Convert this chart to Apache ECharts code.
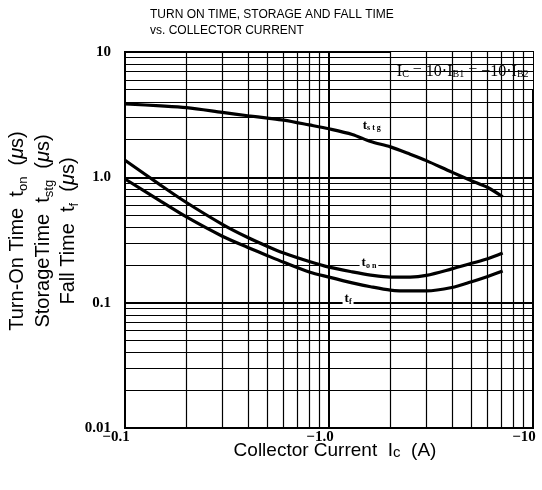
<!DOCTYPE html>
<html>
<head>
<meta charset="utf-8">
<script src="https://cdn.jsdelivr.net/npm/echarts@6/dist/echarts.min.js"></script>
<style>html,body{margin:0;padding:0;background:#fff;}#c{width:542px;height:490px;}</style>
</head>
<body>
<div id="c"></div>
<script>
// Collector current magnitude (A); the axis shows them as negative values
const currents = [0.1, 0.15, 0.2, 0.3, 0.4, 0.5, 0.6, 0.8, 1.0, 1.3, 1.6, 2.0, 2.5, 3.0, 4.0, 5.0, 6.0, 7.1];
// Storage time t_stg (us)
const tStg = [3.85, 3.72, 3.6, 3.3, 3.1, 2.97, 2.86, 2.62, 2.44, 2.2, 1.93, 1.75, 1.53, 1.36, 1.1, 0.94, 0.83, 0.70];
// Turn-on time t_on (us)
const tOn = [1.37, 0.863, 0.63, 0.422, 0.331, 0.281, 0.249, 0.213, 0.192, 0.176, 0.166, 0.16, 0.16, 0.165, 0.186, 0.206, 0.224, 0.249];
// Fall time t_f (us)
const tF = [0.97, 0.643, 0.483, 0.339, 0.276, 0.237, 0.21, 0.176, 0.16, 0.144, 0.134, 0.126, 0.124, 0.124, 0.132, 0.147, 0.162, 0.179];

const xTickLabels = ['\u22120.1', '\u22121.0', '\u221210'];
const yTickLabels = ['0.01', '0.1', '1.0', '10'];

// log graph-paper lines
const gridX = [0.2,0.3,0.4,0.5,0.6,0.7,0.8,0.9,1,2,3,4,5,6,7,8,9];
const gridY = [0.02,0.03,0.04,0.05,0.06,0.07,0.08,0.09,0.1,0.2,0.3,0.4,0.5,0.6,0.7,0.8,0.9,1,2,3,4,5,6,7,8,9];

// curve label anchors (data coordinates)
const labelStg = [1.62, 2.6];
const labelOn = [1.57, 0.207];
const labelF = [1.24, 0.107];

const chart = echarts.init(document.getElementById('c'), null, {renderer: 'canvas'});
const serif = '"Liberation Serif", "Times New Roman", serif';
const sans = '"Liberation Sans", Arial, sans-serif';

function pairs(ys) { return currents.map((x, i) => [x, ys[i]]); }
function curveLabel(coord, txt) {
  return {
    symbol: 'circle', symbolSize: 1, silent: true, animation: false,
    itemStyle: {color: 'rgba(0,0,0,0)'},
    data: [{coord: coord, value: 0}],
    label: {
      show: true, position: 'inside', formatter: txt,
      backgroundColor: '#fff', padding: [0, 2],
      fontFamily: serif, fontWeight: 'bold', fontSize: 13, color: '#000',
      rich: {s: {fontFamily: serif, fontWeight: 'bold', fontSize: 8, color: '#000', verticalAlign: 'bottom', padding: [5, 0, 0, 0]}}
    }
  };
}

const lineData = [];
gridX.forEach(v => lineData.push({xAxis: v, lineStyle: {width: v === 1 ? 2 : 1.2}}));
gridY.forEach(v => lineData.push({yAxis: v, lineStyle: {width: (v === 1 || v === 0.1) ? 2 : 1.2}}));

const option = {
  animation: false,
  backgroundColor: '#fff',
  grid: {left: 125, right: 9, top: 52, bottom: 62, show: true, borderColor: '#000', borderWidth: 2, backgroundColor: 'transparent'},
  xAxis: {
    type: 'log', logBase: 10, min: 0.1, max: 10,
    axisLine: {show: false}, axisTick: {show: false}, splitLine: {show: false}, minorSplitLine: {show: false},
    axisLabel: {
      margin: 2, padding: [0, 18, 0, 0],
      fontFamily: serif, fontWeight: 'bold', fontSize: 15, color: '#000',
      formatter: v => xTickLabels[Math.round(Math.log10(v)) + 1]
    }
  },
  yAxis: {
    type: 'log', logBase: 10, min: 0.01, max: 10,
    axisLine: {show: false}, axisTick: {show: false}, splitLine: {show: false},
    axisLabel: {
      margin: 14,
      fontFamily: serif, fontWeight: 'bold', fontSize: 15, color: '#000',
      formatter: v => yTickLabels[Math.round(Math.log10(v)) + 2]
    }
  },
  series: [
    {
      type: 'line', data: [], z: 1, silent: true,
      markLine: {
        silent: true, symbol: ['none', 'none'], animation: false,
        label: {show: false},
        lineStyle: {color: '#000', type: 'solid', width: 1.2},
        data: lineData
      }
    },
    {
      type: 'line', data: [], z: 2, silent: true,
      markArea: {
        silent: true, animation: false,
        itemStyle: {color: '#fff'},
        label: {
          show: true, position: 'inside', offset: [1, 1],
          formatter: 'I{s|C} = 10\u00b7I{s|B1} = \u221210\u00b7I{s|B2}',
          fontFamily: serif, fontSize: 16, color: '#000',
          rich: {s: {fontFamily: serif, fontSize: 10, color: '#000', verticalAlign: 'bottom', padding: [5, 0, 0, 0]}}
        },
        data: [[{coord: [2, 5]}, {coord: [10, 10]}]]
      }
    },
    {
      name: 'tstg', type: 'line', z: 5, data: pairs(tStg), smooth: 0.3, symbol: 'none',
      lineStyle: {color: '#000', width: 3.2},
      markPoint: curveLabel(labelStg, 't{s|s t g}')
    },
    {
      name: 'ton', type: 'line', z: 5, data: pairs(tOn), smooth: 0.3, symbol: 'none',
      lineStyle: {color: '#000', width: 3.2},
      markPoint: curveLabel(labelOn, 't{s|o n}')
    },
    {
      name: 'tf', type: 'line', z: 5, data: pairs(tF), smooth: 0.3, symbol: 'none',
      lineStyle: {color: '#000', width: 3.2},
      markPoint: curveLabel(labelF, 't{s|f}')
    }
  ],
  graphic: [
    {
      type: 'text', x: 150, y: 15, z: 10,
      style: {text: 'TURN ON TIME, STORAGE AND FALL TIME', fontFamily: sans, fontSize: 12, fill: '#000', verticalAlign: 'middle'}
    },
    {
      type: 'text', x: 150, y: 31, z: 10,
      style: {text: 'vs. COLLECTOR CURRENT', fontFamily: sans, fontSize: 12, fill: '#000', verticalAlign: 'middle'}
    },
    {
      type: 'text', x: 43, y: 231, rotation: Math.PI / 2, z: 10,
      style: {
        text: 'Turn-On Time  t{s|on}  ({m|\u03bc}s)\nStorageTime  t{s|stg}  ({m|\u03bc}s)\nFall Time  t{s|f}  ({m|\u03bc}s)',
        fontFamily: sans, fontSize: 20, fill: '#000', align: 'center', verticalAlign: 'middle', lineHeight: 25.5,
        rich: {
          s: {fontFamily: sans, fontSize: 13, fill: '#000', verticalAlign: 'bottom', lineHeight: 25.5, padding: [4, 0, 0, 0]},
          m: {fontFamily: sans, fontSize: 20, fontStyle: 'italic', fill: '#000', lineHeight: 25.5}
        }
      }
    },
    {
      type: 'text', x: 335, y: 451, z: 10,
      style: {
        text: 'Collector Current  I{s|c}  (A)',
        fontFamily: sans, fontSize: 19, fill: '#000', align: 'center', verticalAlign: 'middle',
        rich: {s: {fontFamily: sans, fontSize: 15, fill: '#000', verticalAlign: 'bottom', padding: [2, 0, 0, 0]}}
      }
    }
  ]
};
chart.setOption(option);
</script>
</body>
</html>
